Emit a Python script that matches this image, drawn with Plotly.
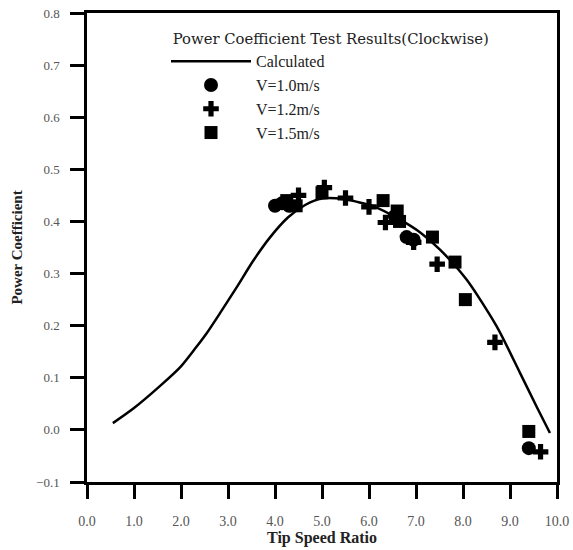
import plotly.graph_objects as go

# Calculated curve
curve_x = [0.55, 1.0, 1.55, 2.0, 2.3, 2.55, 2.83, 3.18, 3.54, 3.89, 4.28, 4.65, 5.0, 5.5, 6.1, 6.65, 7.09, 7.51, 8.08, 8.72, 9.21, 9.57, 9.85]
curve_y = [0.013, 0.042, 0.084, 0.122, 0.156, 0.186, 0.224, 0.273, 0.325, 0.369, 0.408, 0.432, 0.444, 0.442, 0.429, 0.404, 0.379, 0.346, 0.288, 0.198, 0.11, 0.044, -0.006]

# Test results
circ_x = [4.0, 4.15, 4.3, 6.55, 6.8, 6.95, 9.4]
circ_y = [0.43, 0.435, 0.43, 0.41, 0.37, 0.365, -0.035]
plus_x = [4.5, 5.05, 5.5, 6.0, 6.35, 6.95, 7.45, 8.68, 9.65]
plus_y = [0.45, 0.465, 0.445, 0.428, 0.398, 0.36, 0.318, 0.168, -0.042]
sq_x = [4.25, 4.45, 5.0, 6.3, 6.6, 6.65, 7.35, 7.83, 8.05, 9.4]
sq_y = [0.44, 0.43, 0.455, 0.44, 0.42, 0.40, 0.37, 0.322, 0.25, -0.003]

x_ticks = [0, 1, 2, 3, 4, 5, 6, 7, 8, 9, 10]
y_ticks = [-0.1, 0.0, 0.1, 0.2, 0.3, 0.4, 0.5, 0.6, 0.7, 0.8]

FONT = "Liberation Serif"
NB = "\u00a0"

fig = go.Figure()
fig.add_trace(go.Scatter(x=curve_x, y=curve_y, mode="lines", name="Calculated",
                         line=dict(color="black", width=2.5, shape="spline", smoothing=0.7)))
fig.add_trace(go.Scatter(x=circ_x, y=circ_y, mode="markers", name="V=1.0m/s",
                         marker=dict(symbol="circle", size=14, color="black")))
fig.add_trace(go.Scatter(x=plus_x, y=plus_y, mode="markers", name="V=1.2m/s",
                         marker=dict(symbol="cross", size=13, color="black")))
fig.add_trace(go.Scatter(x=sq_x, y=sq_y, mode="markers", name="V=1.5m/s",
                         marker=dict(symbol="square", size=13, color="black")))

fig.update_layout(
    width=573, height=550,
    margin=dict(l=87, r=16, t=13, b=68),
    paper_bgcolor="white", plot_bgcolor="white",
    font=dict(family=FONT, size=12, color="#222"),
    showlegend=True,
    legend=dict(
        x=(166 - 87) / 470, y=(482 - 25) / 469, xanchor="left", yanchor="top",
        bgcolor="rgba(0,0,0,0)",
        title=dict(text=NB + "Power Coefficient Test Results(Clockwise)", side="top",
                   font=dict(family="DejaVu Serif", size=14.8, color="#222")),
        font=dict(family=FONT, size=16, color="#222"),
        itemwidth=80, tracegroupgap=0,
    ),
    xaxis=dict(
        range=[0, 10], tickvals=x_ticks, tickformat=".1f",
        showgrid=False, zeroline=False, automargin=False,
        showline=True, linecolor="black", linewidth=2.5, mirror=True,
        ticks="outside", ticklen=14, tickwidth=3, tickcolor="black",
        ticklabelstandoff=10,
        tickfont=dict(family=FONT, size=14, color="#555"),
        title=dict(text="<b>Tip Speed Ratio</b>", font=dict(family=FONT, size=16, color="#222"), standoff=0),
    ),
    yaxis=dict(
        range=[-0.1, 0.8], tickvals=y_ticks, tickformat=".1f",
        showgrid=False, zeroline=False, automargin=False,
        showline=True, linecolor="black", linewidth=2.5, mirror=True,
        ticks="outside", ticklen=14, tickwidth=3, tickcolor="black",
        ticklabelstandoff=8,
        tickfont=dict(family=FONT, size=13, color="#555"),
        title=dict(text="<b>Power Coefficient</b>", font=dict(family=FONT, size=15, color="#222"), standoff=10),
    ),
)

fig.write_html("out.html")
